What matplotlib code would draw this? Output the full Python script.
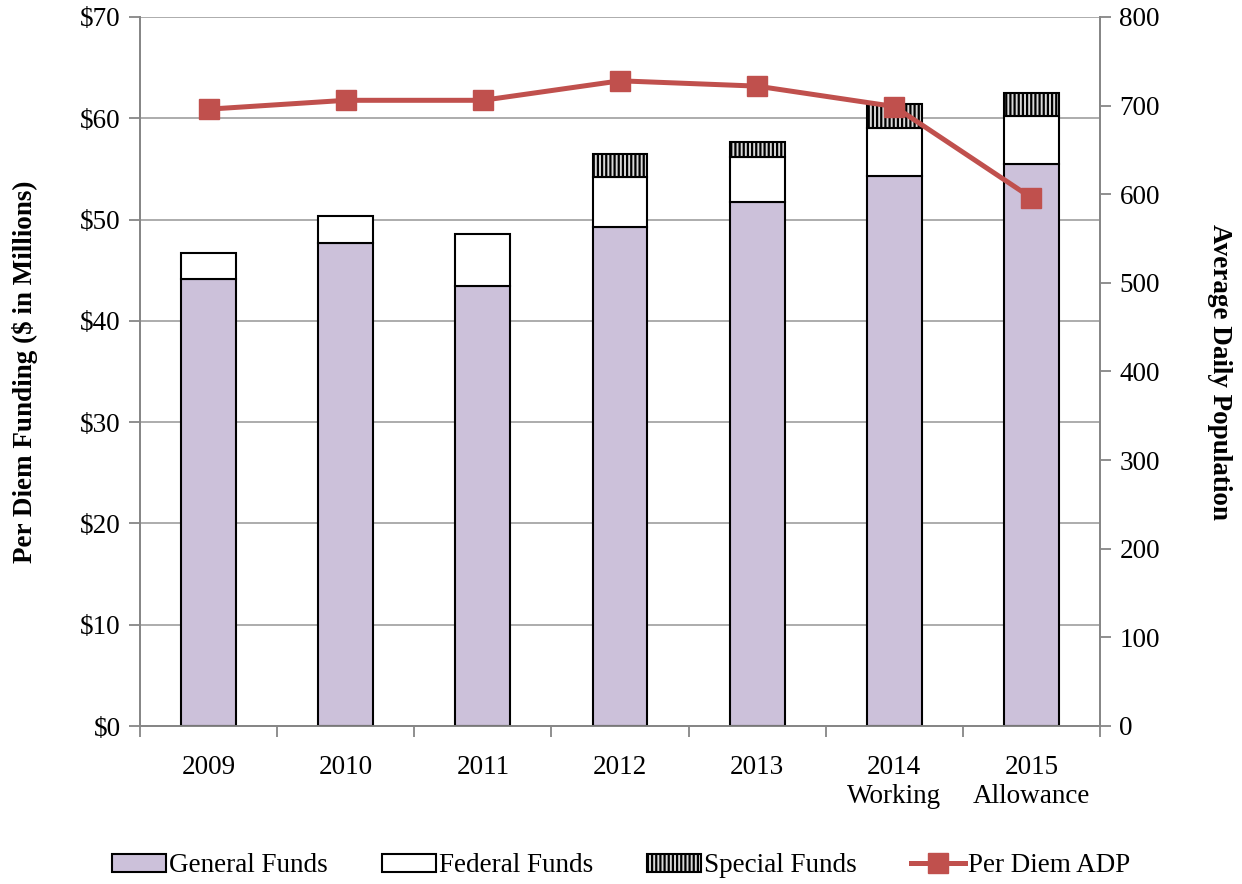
import matplotlib
matplotlib.use("Agg")
import matplotlib.pyplot as plt
import numpy as np

plt.rcParams['font.family'] = ['Liberation Serif', 'DejaVu Serif']
plt.rcParams['hatch.linewidth'] = 1.6

categories = ["2009", "2010", "2011", "2012", "2013", "2014\nWorking", "2015\nAllowance"]
general_funds = [44.1, 47.7, 43.4, 49.3, 51.7, 54.3, 55.5]
federal_funds = [2.6, 2.7, 5.2, 4.9, 4.5, 4.7, 4.7]
special_funds = [0.0, 0.0, 0.0, 2.3, 1.5, 2.4, 2.3]
per_diem_adp = [696, 706, 706, 728, 722, 699, 596]

fig = plt.figure(figsize=(12.42, 8.84), dpi=100)
ax = fig.add_axes([140/1242, 1-726/884, 960/1242, 709/884])
x = np.arange(len(categories))
w = 0.4
fs = 19.5

ax.bar(x, general_funds, w, color='#CCC1DA', edgecolor='black', linewidth=1.5, label='General Funds', zorder=3)
b2 = np.array(general_funds)
ax.bar(x, federal_funds, w, bottom=b2, color='white', edgecolor='black', linewidth=1.5, label='Federal Funds', zorder=3)
b3 = b2 + np.array(federal_funds)
mask = np.array(special_funds) > 0
ax.bar(x[mask], np.array(special_funds)[mask], w, bottom=b3[mask], color='#D9D9D9', edgecolor='black',
       hatch='||||', linewidth=1.5, label='Special Funds', zorder=3)

ax.set_xlim(-0.5, len(categories) - 0.5)
ax.set_ylim(0, 70)
ax.set_yticks(np.arange(0, 71, 10))
ax.set_yticklabels([f"${v}" for v in range(0, 71, 10)], fontsize=fs)
ax.yaxis.grid(True, color='#A6A6A6', linewidth=1.3, zorder=0)
ax.set_axisbelow(True)
ax.set_xticks(x)
ax.set_xticklabels(categories, fontsize=fs, linespacing=1.2)
ax.tick_params(axis='x', length=0, pad=21)
ax.set_xticks(np.arange(-0.5, len(categories), 1), minor=True)
ax.tick_params(axis='x', which='minor', length=8, color='#868686', width=1.3)
ax.tick_params(axis='y', length=8, color='#868686', width=1.3, pad=6)
for s in ['left', 'right', 'bottom']:
    ax.spines[s].set_color('#868686')
    ax.spines[s].set_linewidth(1.3)
ax.spines['top'].set_visible(False)
ax.set_ylabel("Per Diem Funding ($ in Millions)", fontsize=fs, fontweight='bold', labelpad=30)

ax2 = ax.twinx()
ax2.plot(x, per_diem_adp, color='#C0504D', linewidth=3.6, marker='s', markersize=14.5, label='Per Diem ADP', zorder=5)
ax2.set_ylim(0, 800)
ax2.set_yticks(np.arange(0, 801, 100))
ax2.tick_params(axis='y', length=8, color='#868686', width=1.3, labelsize=fs, pad=6)
for s in ['left', 'right', 'bottom']:
    ax2.spines[s].set_color('#868686')
    ax2.spines[s].set_linewidth(1.3)
ax2.spines['top'].set_visible(False)
ax2.set_ylabel("Average Daily Population", fontsize=fs, fontweight='bold', rotation=270, labelpad=52)

h1, l1 = ax.get_legend_handles_labels()
h2, l2 = ax2.get_legend_handles_labels()
fig.legend(h1 + h2, l1 + l2, loc='center', bbox_to_anchor=(0.5, 1-866/884), ncol=4, frameon=False,
           fontsize=fs, handlelength=2.0, handleheight=0.6, handletextpad=0.1, columnspacing=2.0)

fig.savefig("out.png", dpi=100)
